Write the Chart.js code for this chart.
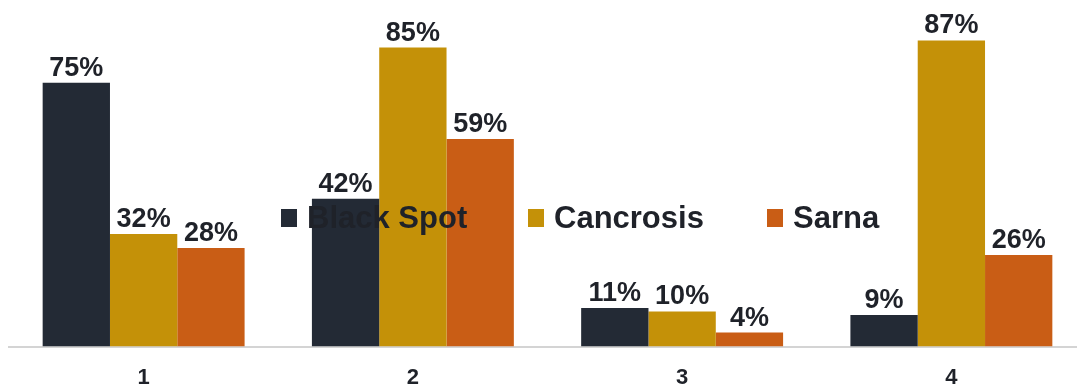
<!DOCTYPE html>
<html>
<head>
<meta charset="utf-8">
<script src="https://cdn.jsdelivr.net/npm/chart.js@4.4.1/dist/chart.umd.min.js"></script>
<style>
  html, body { margin: 0; padding: 0; background: #fff; overflow: hidden; }
  #wrap { position: relative; width: 1077px; height: 390px; overflow: hidden; }
  #diseaseChart { position: absolute; left: 0; top: 0; }
  .legend-item {
    position: absolute; top: 203px; height: 30px; line-height: 30px;
    display: flex; align-items: center; white-space: nowrap;
    font: bold 31px "Liberation Sans", Arial, sans-serif; color: #1f2229;
  }
  .legend-item span.box { display: inline-block; width: 16px; height: 18px; margin-right: 10px; }
</style>
</head>
<body>
<div id="wrap">
  <canvas id="diseaseChart" width="1090" height="409"></canvas>
  <div id="legend"></div>
</div>
<script>
const categories = ['1', '2', '3', '4'];
const seriesNames = ['Black Spot', 'Cancrosis', 'Sarna'];
const blackSpot = [75, 42, 11, 9];
const cancrosis = [32, 85, 10, 87];
const sarna = [28, 59, 4, 26];
const colors = ['#232a35', '#c49108', '#c95d15'];
const legendLeft = [281, 528, 767];

const valueLabels = {
    id: 'valueLabels',
    afterDatasetsDraw(chart) {
        const ctx = chart.ctx;
        ctx.save();
        ctx.font = 'bold 27px "Liberation Sans", Arial, sans-serif';
        ctx.fillStyle = '#1f2229';
        ctx.textAlign = 'center';
        ctx.textBaseline = 'alphabetic';
        chart.data.datasets.forEach((ds, i) => {
            chart.getDatasetMeta(i).data.forEach((bar, j) => {
                ctx.fillText(ds.data[j] + '%', bar.x, bar.y - 7);
            });
        });
        ctx.restore();
    }
};

const ctx = document.getElementById('diseaseChart').getContext('2d');

// canvas is a bit taller than the window so the axis line lands where the original has it
new Chart(ctx, {
    type: 'bar',
    data: {
        labels: categories,
        datasets: [
            { label: seriesNames[0], data: blackSpot, backgroundColor: colors[0] },
            { label: seriesNames[1], data: cancrosis, backgroundColor: colors[1] },
            { label: seriesNames[2], data: sarna, backgroundColor: colors[2] }
        ]
    },
    options: {
        responsive: false,
        animation: false,
        layout: { padding: { left: 9, right: 4, top: 0, bottom: 0 } },
        datasets: { bar: { categoryPercentage: 0.75, barPercentage: 1.0 } },
        plugins: {
            legend: { display: false },
            tooltip: { enabled: false }
        },
        scales: {
            x: {
                grid: { display: false, drawTicks: false },
                border: { display: true, color: '#d4d4d4', width: 2 },
                ticks: {
                    padding: 18,
                    color: '#1f2229',
                    font: { family: '"Liberation Sans", Arial, sans-serif', size: 22, weight: 'bold' }
                }
            },
            y: {
                display: false,
                min: 0,
                max: 98.5
            }
        }
    },
    plugins: [valueLabels]
});

// legend drawn in html on top of the plot, like the original
const legendEl = document.getElementById('legend');
seriesNames.forEach((name, i) => {
    const item = document.createElement('div');
    item.className = 'legend-item';
    item.style.left = legendLeft[i] + 'px';
    item.innerHTML = '<span class="box" style="background:' + colors[i] + '"></span>' + name;
    legendEl.appendChild(item);
});
</script>
</body>
</html>
